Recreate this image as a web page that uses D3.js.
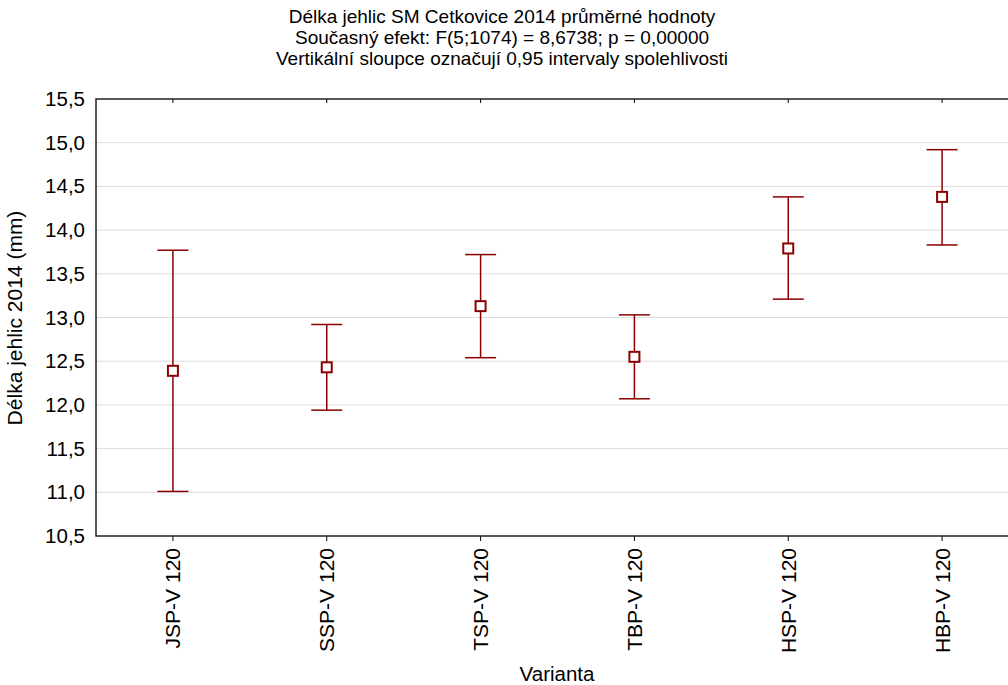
<!DOCTYPE html>
<html>
<head>
<meta charset="utf-8">
<script src="https://cdn.jsdelivr.net/npm/d3@7"></script>
<style>
body{margin:0;background:#fff;}
text{font-family:"Liberation Sans",Arial,sans-serif;fill:#000;}
</style>
</head>
<body>
<svg id="chart" width="1008" height="685"></svg>
<script>
const categories = ["JSP-V 120","SSP-V 120","TSP-V 120","TBP-V 120","HSP-V 120","HBP-V 120"];
const means = [12.39, 12.43, 13.13, 12.55, 13.79, 14.38];
const lower = [11.01, 11.94, 12.54, 12.07, 13.21, 13.83];
const upper = [13.77, 12.92, 13.72, 13.03, 14.38, 14.92];
const yTicks = [10.5,11,11.5,12,12.5,13,13.5,14,14.5,15,15.5];
const titleLines = ["Délka jehlic SM Cetkovice 2014 průměrné hodnoty",
  "Současný efekt: F(5;1074) = 8,6738; p = 0,00000",
  "Vertikální sloupce označují 0,95 intervaly spolehlivosti"];

const svg = d3.select("#chart");
const L = 96, R = 1019, T = 99, B = 536;
const x = d3.scaleBand().domain(categories).range([L, R]).padding(0);
const y = d3.scaleLinear().domain([10.5, 15.5]).range([B, T]);
const fmt = v => d3.format(".1f")(v).replace(".", ",");
const red = "#8b0000";
const FF = "Liberation Sans, Arial, sans-serif";

// gridlines
svg.append("g").selectAll("line").data(yTicks.slice(1, -1)).join("line")
  .attr("x1", L).attr("x2", R).attr("y1", d => y(d)).attr("y2", d => y(d))
  .attr("stroke", "#dcdcdc").attr("stroke-width", 1);

// left axis labels
const ya = svg.append("g").attr("transform", `translate(${L},0)`)
  .call(d3.axisLeft(y).tickValues(yTicks).tickFormat(fmt).tickSize(0).tickPadding(11));
ya.select(".domain").remove();
ya.selectAll("text").style("font-size", "20.5px").style("font-family", FF);

// bottom axis
const xa = svg.append("g").attr("transform", `translate(0,${B})`)
  .call(d3.axisBottom(x).tickSize(5).tickSizeOuter(0));
xa.select(".domain").remove();
xa.selectAll(".tick line").attr("stroke", "#000");
xa.selectAll("text").style("font-size", "21px").style("font-family", FF)
  .attr("transform", "rotate(-90)").attr("text-anchor", "end")
  .attr("x", -12).attr("y", 0).attr("dy", "0.36em");

// top ticks
const xt = svg.append("g").attr("transform", `translate(0,${T})`)
  .call(d3.axisTop(x).tickSize(-4).tickSizeOuter(0).tickFormat(""));
xt.select(".domain").remove();
xt.selectAll(".tick line").attr("stroke", "#000");

// frame
svg.append("path").attr("d", `M${R},${T}H${L}V${B}H${R}`)
  .attr("fill", "none").attr("stroke", "#222").attr("stroke-width", 1.5);

// error bars
const cx = d => x(d) + x.bandwidth() / 2;
const g = svg.append("g");
categories.forEach((c, i) => {
  const xc = cx(c);
  g.append("line").attr("x1", xc).attr("x2", xc).attr("y1", y(upper[i])).attr("y2", y(lower[i]))
    .attr("stroke", red).attr("stroke-width", 1.5);
  [upper[i], lower[i]].forEach(v => {
    g.append("line").attr("x1", xc - 15.5).attr("x2", xc + 15.5).attr("y1", y(v)).attr("y2", y(v))
      .attr("stroke", red).attr("stroke-width", 1.5);
  });
  g.append("rect").attr("x", xc - 5).attr("y", y(means[i]) - 5).attr("width", 10).attr("height", 10)
    .attr("fill", "#fff").attr("stroke", red).attr("stroke-width", 2);
});

// titles
titleLines.forEach((t, i) => {
  svg.append("text").attr("x", 502).attr("y", 23 + i * 21).attr("text-anchor", "middle")
    .style("font-size", "19px").text(t);
});
svg.append("text").attr("x", 557).attr("y", 681).attr("text-anchor", "middle")
  .style("font-size", "20.5px").text("Varianta");
svg.append("text").attr("transform", `translate(22,318) rotate(-90)`).attr("text-anchor", "middle")
  .style("font-size", "21px").text("Délka jehlic 2014 (mm)");
</script>
</body>
</html>
